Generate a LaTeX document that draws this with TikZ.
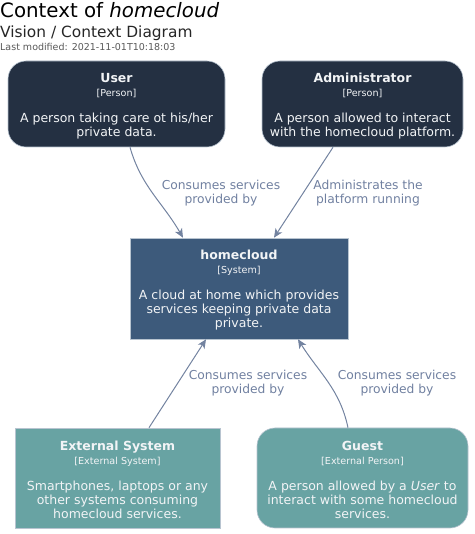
\documentclass[tikz,border=0pt]{standalone}
\usepackage{fontspec}
\setmainfont{DejaVu Sans}
\usetikzlibrary{arrows.meta,calc}
\definecolor{personbg}{HTML}{243042}
\definecolor{systembg}{HTML}{3D5A7B}
\definecolor{extbg}{HTML}{68A3A3}
\definecolor{boxborder}{HTML}{B8C4D0}
\definecolor{relcol}{HTML}{7383A0}
\definecolor{reltext}{HTML}{7080A0}
\definecolor{boxtext}{HTML}{F2F4F6}
\tikzset{
  elem/.style={draw=boxborder, line width=0.6pt, text=boxtext, align=center,
    font=\fontsize{12.5}{14}\selectfont, inner sep=0pt},
  personbox/.style={elem, fill=personbg, rounded corners=18pt},
  systembox/.style={elem, fill=systembg},
  extsystembox/.style={elem, fill=extbg},
  extpersonbox/.style={elem, fill=extbg, rounded corners=18pt},
  rel/.style={draw=relcol, line width=1pt, -{Stealth[length=9pt,width=8pt,inset=2.5pt]}},
  rellabel/.style={text=reltext, align=center, font=\fontsize{12.3}{14}\selectfont, inner sep=0pt},
}
\newcommand{\eltitle}[1]{{\fontsize{12.5}{14}\selectfont\bfseries\rule{0pt}{12.8pt}#1}}
\newcommand{\elstereo}[1]{{\fontsize{9.6}{14}\selectfont [#1]}}
\begin{document}
\begin{tikzpicture}[x=1pt,y=1pt]
\useasboundingbox (0,0) rectangle (474,534);
% titles
\node[anchor=base west, inner sep=0pt, text=black, font=\fontsize{19.8}{22}\selectfont] (title) at (0,516.5) {Context of \textit{homecloud}};
\node[anchor=base west, inner sep=0pt, text=black!85, font=\fontsize{15.4}{17}\selectfont] (subtitle) at (0,496.5) {Vision / Context Diagram};
\node[anchor=base west, inner sep=0pt, text=black!65, font=\fontsize{9.5}{11}\selectfont] (modified) at (0,483) {Last modified: 2021-11-01T10:18:03};
% elements
\node[personbox, minimum width=217pt, minimum height=86pt] (user) at (116.5,430)
  {\eltitle{User}\\\elstereo{Person}\\[12pt]A person taking care ot his/her\\private data.};
\node[personbox, minimum width=201pt, minimum height=86pt] (admin) at (362.5,430)
  {\eltitle{Administrator}\\\elstereo{Person}\\[12pt]A person allowed to interact\\with the homecloud platform.};
\node[systembox, minimum width=218pt, minimum height=101pt] (hc) at (239,245.5)
  {\eltitle{homecloud}\\\elstereo{System}\\[12pt]A cloud at home which provides\\services keeping private data\\private.};
\node[extsystembox, minimum width=205pt, minimum height=100pt] (ext) at (117.5,56)
  {\eltitle{External System}\\\elstereo{External System}\\[12pt]Smartphones, laptops or any\\other systems consuming\\homecloud services.};
\node[extpersonbox, minimum width=211pt, minimum height=100pt] (guest) at (362.5,56)
  {\eltitle{Guest}\\\elstereo{External Person}\\[12pt]A person allowed by a \textit{User} to\\interact with some homecloud\\services.};
% relations
\draw[rel] ($(user.south)+(13.5,0)$) to[out=-74,in=120] ($(hc.north)+(-56,0)$);
\draw[rel] ($(admin.south)+(-29.5,0)$) -- ($(hc.north)+(35,0)$);
\draw[rel] ($(ext.north)+(31.5,0)$) -- ($(hc.south)+(-33,0)$);
\draw[rel] ($(guest.north)+(-14.5,0)$) to[out=102,in=-58] ($(hc.south)+(59,0)$);
% relation labels
\node[rellabel] (l1) at (221,341) {Consumes services\\provided by};
\node[rellabel] (l2) at (368,341) {Administrates the\\platform running};
\node[rellabel] (l3) at (248,150.5) {Consumes services\\provided by};
\node[rellabel] (l4) at (397,150.5) {Consumes services\\provided by};
\end{tikzpicture}
\end{document}
